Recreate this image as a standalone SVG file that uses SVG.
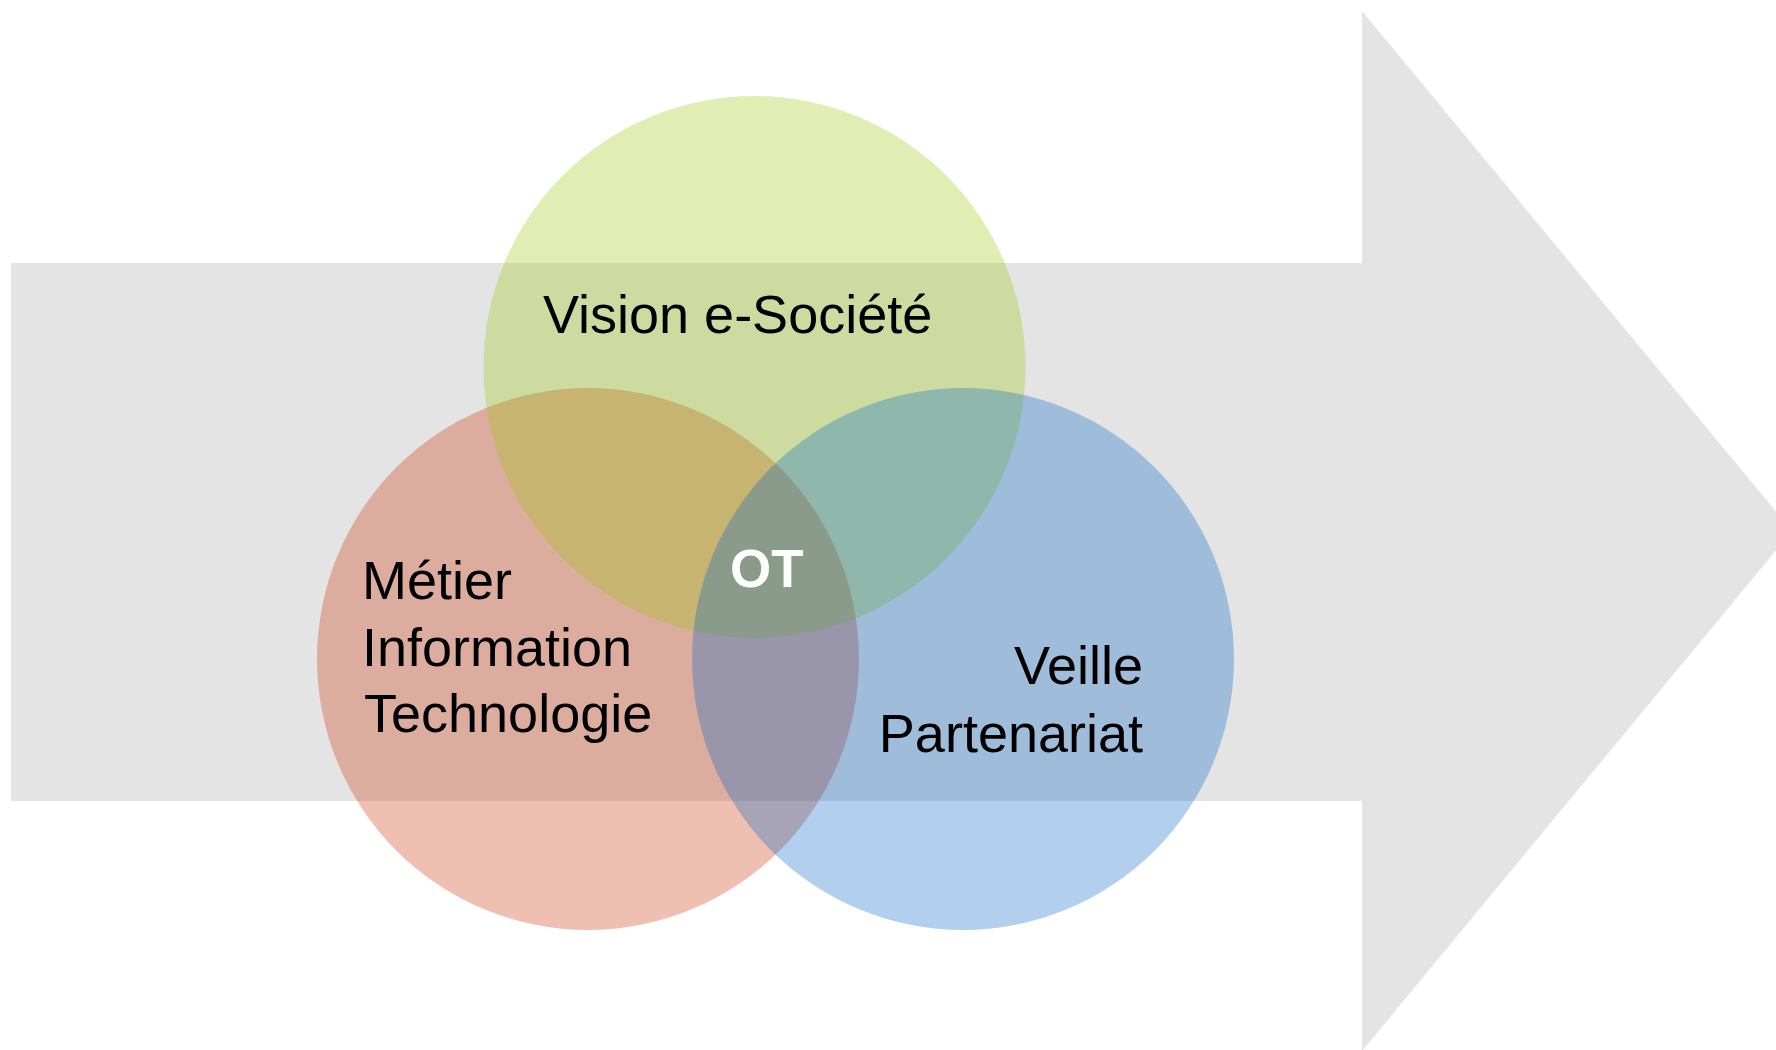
<svg xmlns="http://www.w3.org/2000/svg" width="1776" height="1050" viewBox="0 0 1776 1050">
<style>
.lbl{font-family:"Liberation Sans",Arial,sans-serif;font-size:54px;fill:#000}
.ot{font-family:"Liberation Sans",Arial,sans-serif;font-size:53px;font-weight:bold;fill:#fff}
.c{fill-opacity:0.3}
</style>
<rect width="1776" height="1050" fill="#fff"/>
<g id="arrow">
<polygon points="11,263 1362,263 1362,11 1792,531 1362,1051 1362,801 11,801" fill="#e4e4e4"/>
</g>
<g id="metier">
<circle class="c" cx="588" cy="659" r="271" fill="#ca3000"/>
</g>
<g id="vision">
<circle class="c" cx="754.5" cy="367" r="271" fill="#98c605"/>
</g>
<g id="veille">
<circle class="c" cx="963" cy="659" r="271" fill="#0062c6"/>
</g>
<g id="connectors"></g>
<g id="labels">
<text class="lbl" x="543" y="333">Vision e-Société</text>
<text class="lbl" x="362" y="599">Métier</text>
<text class="lbl" x="362" y="666">Information</text>
<text class="lbl" x="364" y="732">Technologie</text>
<text class="lbl" x="1143" y="684" text-anchor="end">Veille</text>
<text class="lbl" x="1143" y="752" text-anchor="end">Partenariat</text>
<text class="ot" x="730" y="587">OT</text>
</g>
</svg>
